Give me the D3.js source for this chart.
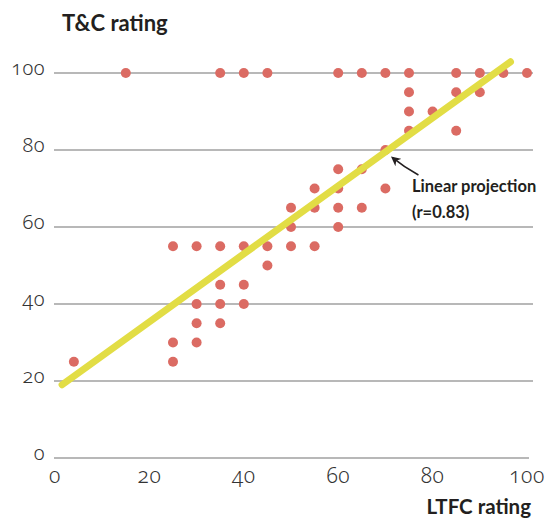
<!DOCTYPE html>
<html><head><meta charset="utf-8">
<script src="https://cdn.jsdelivr.net/npm/d3@7"></script>
<style>
body{margin:0;background:#fff;}
text{font-family:Lato,"Open Sans",sans-serif;}
.tick{font-family:"Noto Sans",sans-serif;font-weight:300;font-variant-numeric:oldstyle-nums;font-feature-settings:"onum" 1;fill:#333;letter-spacing:0.5px;}
</style></head>
<body><svg id="c" width="548" height="520"></svg>
<script>
// Data: LTFC rating (x) vs T&C rating (y)
const ltfc = [15,35,40,45,60,65,70,75,85,90,95,100,
  75,85,90, 75,80, 75,85, 70, 60,65, 55,60,70, 50,55,60,65, 50,60,
  25,30,35,40,45,50,55, 45, 35,40, 30,35,40, 30,35, 25,30, 4,25];
const tc = [100,100,100,100,100,100,100,100,100,100,100,100,
  95,95,95, 90,90, 85,85, 80, 75,75, 70,70,70, 65,65,65,65, 60,60,
  55,55,55,55,55,55,55, 50, 45,45, 40,40,40, 35,35, 30,30, 25,25];
const yTicks = [0,20,40,60,80,100];
const xTicks = [0,20,40,60,80,100];
const fitIntercept = 17.7, fitSlope = 0.883, fitRange = [1.5, 96.5];

const svg = d3.select("#c");
const x = d3.scaleLinear().domain([0,100]).range([55,527]);
const y = d3.scaleLinear().domain([0,100]).range([458,73]);

// gridlines
svg.append("g").selectAll("line").data(yTicks).join("line")
  .attr("x1",54).attr("x2",d=>d===0?529:533)
  .attr("y1",d=>y(d)).attr("y2",d=>y(d))
  .attr("stroke","#a0a0a0").attr("stroke-width",1.4);

// y tick labels
svg.append("g").selectAll("text").data(yTicks).join("text").attr("class","tick")
  .attr("x",45).attr("y",d=>y(d)+2).attr("text-anchor","end")
  .attr("font-size",20).text(d=>d);

// x tick labels
svg.append("g").selectAll("text").data(xTicks).join("text").attr("class","tick")
  .attr("x",d=>x(d)).attr("y",483).attr("text-anchor","middle")
  .attr("font-size",21).text(d=>d);

// dots
svg.append("g").selectAll("circle").data(ltfc.map((v,i)=>[v,tc[i]])).join("circle")
  .attr("cx",d=>x(d[0])).attr("cy",d=>y(d[1])).attr("r",5)
  .attr("fill","#db6b63");

// fit line
svg.append("line")
  .attr("x1",x(fitRange[0])).attr("y1",y(fitIntercept+fitSlope*fitRange[0]))
  .attr("x2",x(fitRange[1])).attr("y2",y(fitIntercept+fitSlope*fitRange[1]))
  .attr("stroke","#e2dd45").attr("stroke-width",7).attr("stroke-linecap","round");

// annotation arrow
svg.append("defs").append("marker").attr("id","ah").attr("viewBox","0 0 10 10")
  .attr("refX",8).attr("refY",5).attr("markerWidth",6).attr("markerHeight",6)
  .attr("orient","auto-start-reverse")
  .append("path").attr("d","M0,0 L10,5 L0,10 L3,5 Z").attr("fill","#231f20");
svg.append("path").attr("d",`M${x(77)},${y(73.5)} Q${x(74)},${y(75.5)} ${x(71.5)},${y(78)}`)
  .attr("fill","none").attr("stroke","#231f20").attr("stroke-width",1.6)
  .attr("marker-end","url(#ah)");

svg.append("text").attr("x",412).attr("y",192).attr("font-size",16.5)
  .attr("font-weight","bold").attr("fill","#231f20").text("Linear projection");
svg.append("text").attr("x",412).attr("y",218).attr("font-size",16.5)
  .attr("font-weight","bold").attr("fill","#231f20").text("(r=0.83)");

// axis titles
svg.append("text").attr("x",62).attr("y",31).attr("font-size",22)
  .attr("font-weight","bold").attr("fill","#231f20").text("T&C rating");
svg.append("text").attr("x",531).attr("y",514).attr("text-anchor","end").attr("font-size",20.5)
  .attr("font-weight","bold").attr("fill","#231f20").text("LTFC rating");
</script></body></html>
